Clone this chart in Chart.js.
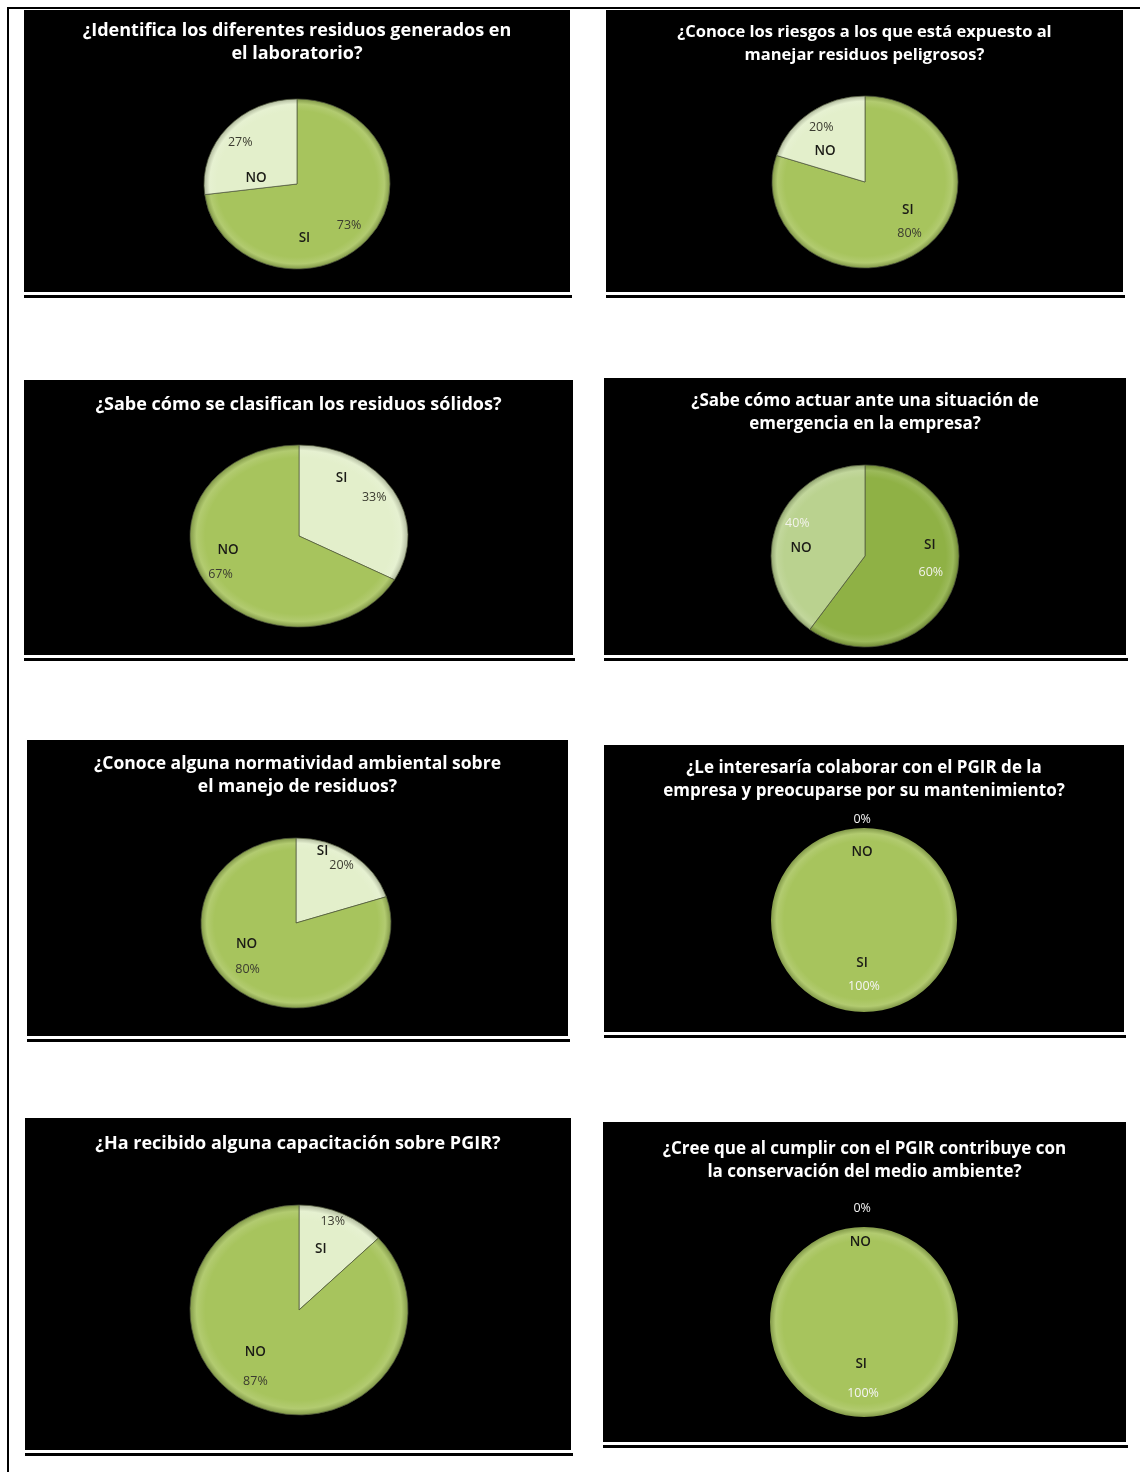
<!DOCTYPE html>
<html lang="es">
<head>
<meta charset="UTF-8">
<title>Encuesta PGIR</title>
<script src="https://cdn.jsdelivr.net/npm/chart.js@4.4.1/dist/chart.umd.min.js"></script>
<style>
  body { margin: 0; background: #fff; width: 1140px; height: 1472px; position: relative; overflow: hidden; }
  .frame-top { position: absolute; left: 7px; top: 7px; width: 1133px; height: 2px; background: #000; }
  .frame-left { position: absolute; left: 7px; top: 7px; width: 2px; height: 1465px; background: #000; }
  .panel { position: absolute; background: #000; }
  .panel canvas { position: absolute; left: 0; top: 0; }
  .panel h3 { position: absolute; left: 0; right: 0; margin: 0; text-align: center; color: #fff;
              font-family: "Open Sans", "Noto Sans", sans-serif; font-weight: 700; line-height: 23px;
              white-space: nowrap; }
  .rule { position: absolute; height: 3px; background: #000; }
</style>
</head>
<body>
<div class="frame-top"></div>
<div class="frame-left"></div>
<div id="page"></div>

<script>
  // survey answers, one entry per chart
  const titles = [
    ["¿Identifica los diferentes residuos generados en", "el laboratorio?"],
    ["¿Conoce los riesgos a los que está expuesto al", "manejar residuos peligrosos?"],
    ["¿Sabe cómo se clasifican los residuos sólidos?"],
    ["¿Sabe cómo actuar ante una situación de", "emergencia en la empresa?"],
    ["¿Conoce alguna normatividad ambiental sobre", "el manejo de residuos?"],
    ["¿Le interesaría colaborar con el PGIR de la", "empresa y preocuparse por su mantenimiento?"],
    ["¿Ha recibido alguna capacitación sobre PGIR?"],
    ["¿Cree que al cumplir con el PGIR contribuye con", "la conservación del medio ambiente?"]
  ];
  const categories = ["SI", "NO"];
  const siValues = [73, 80, 33, 60, 20, 100, 13, 100];
  const noValues = [27, 20, 67, 40, 80, 0, 87, 0];

  // panel boxes and pie geometry (page pixels)
  const panels = [
    { left: 24,  top: 10,   w: 546, h: 282, cx: 297, cy: 184,  rx: 93,  ry: 85, font: 18, titleTop: 8 },
    { left: 606, top: 10,   w: 517, h: 282, cx: 865, cy: 182,  rx: 93,  ry: 86, font: 16.5, titleTop: 9 },
    { left: 24,  top: 380,  w: 549, h: 275, cx: 299, cy: 536,  rx: 109, ry: 91, font: 18, titleTop: 12 },
    { left: 604, top: 378,  w: 522, h: 277, cx: 865, cy: 556,  rx: 94,  ry: 91, font: 17, titleTop: 10 },
    { left: 27,  top: 740,  w: 541, h: 296, cx: 296, cy: 923,  rx: 95,  ry: 85, font: 17.5, titleTop: 11 },
    { left: 604, top: 745,  w: 520, h: 287, cx: 864, cy: 920,  rx: 93,  ry: 92, font: 17, titleTop: 10 },
    { left: 25,  top: 1118, w: 546, h: 332, cx: 299, cy: 1310, rx: 109, ry: 105, font: 18, titleTop: 13 },
    { left: 603, top: 1122, w: 523, h: 320, cx: 864, cy: 1322, rx: 94,  ry: 95, font: 17, titleTop: 14 }
  ];

  const sliceColors = [
    ["#a7c45d", "#e3efcb"],
    ["#a7c45d", "#e3efcb"],
    ["#e3efcb", "#a7c45d"],
    ["#8fb145", "#bad28f"],
    ["#e3efcb", "#a7c45d"],
    ["#a7c45d", "#a7c45d"],
    ["#e3efcb", "#a7c45d"],
    ["#a7c45d", "#a7c45d"]
  ];
  const pctColors = ["#3b3b30", "#3b3b30", "#3b3b30", "#f2f2ea", "#3b3b30", "#f5f5f5", "#3b3b30", "#f5f5f5"];

  // label placement, offsets in radius units from the pie centre
  const labelSpots = [
    [[1, "pct", -0.61, -0.49], [1, "name", -0.44, -0.07], [0, "pct", 0.56, 0.49], [0, "name", 0.08, 0.64]],
    [[1, "pct", -0.47, -0.63], [1, "name", -0.43, -0.36], [0, "name", 0.46, 0.33], [0, "pct", 0.48, 0.60]],
    [[0, "name", 0.39, -0.64], [0, "pct", 0.69, -0.42], [1, "name", -0.65, 0.16], [1, "pct", -0.72, 0.42]],
    [[1, "pct", -0.72, -0.36], [1, "name", -0.68, -0.09], [0, "name", 0.69, -0.12], [0, "pct", 0.70, 0.18]],
    [[0, "name", 0.28, -0.85], [0, "pct", 0.48, -0.68], [1, "name", -0.52, 0.25], [1, "pct", -0.51, 0.55]],
    [[1, "pct", -0.02, -1.09], [1, "name", -0.02, -0.74], [0, "name", -0.02, 0.47], [0, "pct", 0, 0.72]],
    [[0, "pct", 0.31, -0.84], [0, "name", 0.20, -0.58], [1, "name", -0.40, 0.40], [1, "pct", -0.40, 0.68]],
    [[1, "pct", -0.02, -1.2], [1, "name", -0.04, -0.84], [0, "name", -0.03, 0.44], [0, "pct", -0.01, 0.75]]
  ];

  function mix(hex, other, t) {
    const a = [1, 3, 5].map(k => parseInt(hex.substr(k, 2), 16));
    const b = [1, 3, 5].map(k => parseInt(other.substr(k, 2), 16));
    const c = a.map((v, k) => Math.round(v + (b[k] - v) * t));
    return "rgb(" + c.join(",") + ")";
  }

  function shade(ctx, base, r) {
    const area = ctx.chart.chartArea;
    if (!area) return base;
    const cx = (area.left + area.right) / 2;
    const cy = (area.top + area.bottom) / 2;
    const g = ctx.chart.ctx.createRadialGradient(cx, cy, 0, cx, cy, r);
    g.addColorStop(0, base);
    g.addColorStop(0.86, base);
    g.addColorStop(0.94, mix(base, "#ffffff", 0.12));
    g.addColorStop(1, mix(base, "#000000", 0.22));
    return g;
  }

  // flattens the pie a little, like the tilted pies of the original
  const squish = {
    id: "squish",
    beforeDatasetDraw(chart, args, opts) {
      const arc = chart.getDatasetMeta(0).data[0];
      const c = chart.ctx;
      c.save();
      c.translate(arc.x, arc.y);
      c.scale(1, opts.sy);
      c.translate(-arc.x, -arc.y);
    },
    afterDatasetDraw(chart) {
      chart.ctx.restore();
    }
  };

  const sliceLabels = {
    id: "sliceLabels",
    afterDatasetsDraw(chart, args, opts) {
      const arc = chart.getDatasetMeta(0).data[0];
      const values = chart.data.datasets[0].data;
      const c = chart.ctx;
      c.save();
      c.textAlign = "center";
      c.textBaseline = "middle";
      opts.spots.forEach(([slice, kind, dx, dy]) => {
        const x = arc.x + dx * opts.rx;
        const y = arc.y + dy * opts.ry;
        if (kind === "name") {
          c.font = "600 13.5px 'Open Sans', 'Noto Sans', sans-serif";
          c.fillStyle = "#1b1b16";
          c.fillText(chart.data.labels[slice], x, y);
        } else {
          c.font = "12.5px 'Open Sans', 'Noto Sans', sans-serif";
          c.fillStyle = opts.pctColor;
          c.fillText(values[slice] + "%", x, y);
        }
      });
      c.restore();
    }
  };

  const page = document.getElementById("page");

  panels.forEach((p, i) => {
    const box = document.createElement("div");
    box.className = "panel";
    box.style.cssText = `left:${p.left}px;top:${p.top}px;width:${p.w}px;height:${p.h}px`;
    const canvas = document.createElement("canvas");
    canvas.width = p.w;
    canvas.height = p.h;
    box.appendChild(canvas);
    const h = document.createElement("h3");
    h.style.top = p.titleTop + "px";
    h.style.fontSize = p.font + "px";
    h.innerHTML = titles[i].join("<br>");
    box.appendChild(h);
    page.appendChild(box);

    const rule = document.createElement("div");
    rule.className = "rule";
    rule.style.cssText = `left:${p.left}px;top:${p.top + p.h + 3}px;width:${p.w + 2}px`;
    page.appendChild(rule);

    // put the chart area centre on the pie centre
    const dy = 2 * (p.cy - p.top) - p.h;
    const dx = 2 * (p.cx - p.left) - p.w;
    const total = siValues[i] + noValues[i];

    new Chart(canvas, {
      type: "pie",
      data: {
        labels: categories,
        datasets: [{
          data: [siValues[i], noValues[i]],
          backgroundColor: ctx => shade(ctx, sliceColors[i][ctx.dataIndex], p.rx),
          borderColor: "rgba(80,88,60,0.75)",
          borderWidth: ctx => (ctx.raw === 0 || ctx.raw === total ? 0 : 1)
        }]
      },
      options: {
        responsive: false,
        animation: false,
        radius: p.rx,
        layout: {
          padding: {
            top: Math.max(dy, 0), bottom: Math.max(-dy, 0),
            left: Math.max(dx, 0), right: Math.max(-dx, 0)
          }
        },
        plugins: {
          legend: { display: false },
          tooltip: { enabled: false },
          squish: { sy: p.ry / p.rx },
          sliceLabels: { spots: labelSpots[i], rx: p.rx, ry: p.ry, pctColor: pctColors[i] }
        }
      },
      plugins: [squish, sliceLabels]
    });
  });
</script>
</body>
</html>
